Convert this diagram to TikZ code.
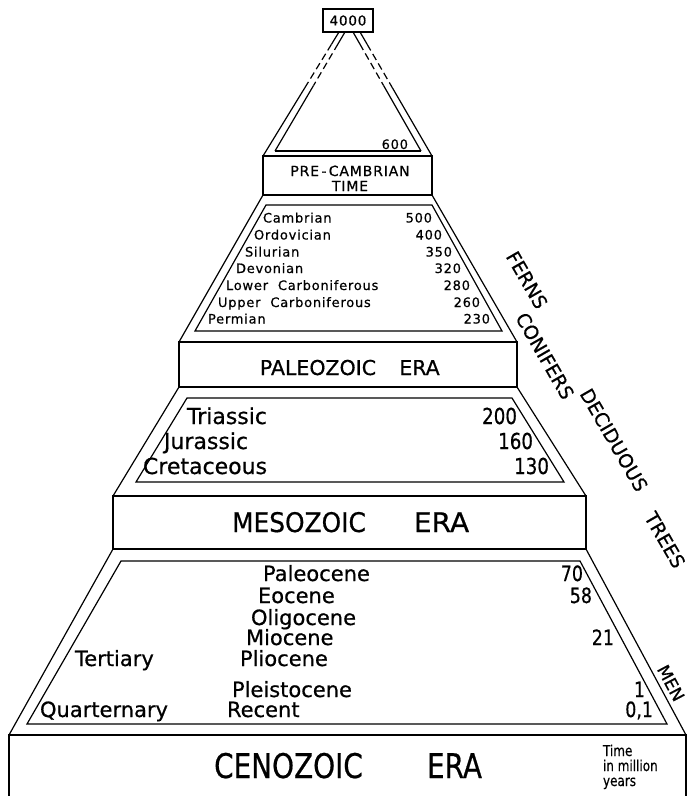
\documentclass[tikz,border=0pt]{standalone}
\usepackage{fontspec}
\usepackage{graphicx}
\setmainfont{DejaVu Sans}[FakeBold=0.6]
\newfontfamily\spc{DejaVu Sans}[LetterSpace=6,FakeBold=0.6]
\usetikzlibrary{calc}
\tikzset{
 ln/.style={line width=1.2pt, line join=miter},
 dsh/.style={ln, dash pattern=on 7pt off 4pt},
 lab/.style={inner sep=0pt, outer sep=0pt},
 pal/.style={lab, font=\spc\fontsize{13}{15}\selectfont},
 mes/.style={lab, font=\fontsize{22}{26}\selectfont},
 cen/.style={lab, font=\fontsize{21}{25}\selectfont},
 side/.style={lab, font=\fontsize{19}{22}\selectfont, rotate=-60},
}
\newcommand\nx[1]{\scalebox{0.83}[1]{#1}}
\newcommand\cx[2]{\scalebox{#1}[1]{#2}}
\begin{document}
\begin{tikzpicture}[x=1pt,y=-1pt]
\useasboundingbox (0,0) rectangle (688,796);
% ---------- top box and triangle
\node[lab, draw, ln, minimum width=50pt, minimum height=23pt, font=\spc\fontsize{13.5}{15}\selectfont] (top) at (348,20.5) {4000};
\coordinate (OTL) at (339,32); \coordinate (OBL) at (263,156);
\coordinate (OTR) at (360,32); \coordinate (OBR) at (432,156);
\coordinate (ITL) at (345,32); \coordinate (IBL) at (275,151);
\coordinate (ITR) at (353,32); \coordinate (IBR) at (421,151);
\foreach \a/\b in {OTL/OBL, ITL/IBL, OTR/OBR, ITR/IBR} {
 \draw[ln] (\a) -- ($(\a)!0.1!(\b)$);
 \draw[dsh] ($(\a)!0.1!(\b)$) -- ($(\a)!0.45!(\b)$);
 \draw[ln] ($(\a)!0.45!(\b)$) -- (\b);
}
\draw[ln] (IBL) -- (IBR);
\node[pal, anchor=base east] (n600) at (408,149) {600};
% ---------- Pre-Cambrian box
\draw[ln] (263,156) rectangle (432,195);
\node[lab, font=\spc\fontsize{14}{16}\selectfont, anchor=base] (pc1) at (350,176) {PRE\,-\,CAMBRIAN};
\node[lab, font=\spc\fontsize{14}{16}\selectfont, anchor=base] (pc2) at (350,191) {TIME};
% ---------- Paleozoic
\draw[ln] (263,195) -- (179,342);
\draw[ln] (432,195) -- (517,342);
\draw[ln] (266,205) -- (432,205) -- (502,331) -- (195,331) -- cycle;
\draw[ln] (179,342) rectangle (517,387);
\node[pal, anchor=base west] (cam) at (263,222.5) {Cambrian};
\node[pal, anchor=base west] (ord) at (254,239.5) {Ordovician};
\node[pal, anchor=base west] (sil) at (245,256.5) {Silurian};
\node[pal, anchor=base west] (dev) at (236,273) {Devonian};
\node[pal, anchor=base west] (lca) at (226,290) {Lower\hspace{5pt} Carboniferous};
\node[pal, anchor=base west] (uca) at (218,307) {Upper\hspace{5pt} Carboniferous};
\node[pal, anchor=base west] (per) at (208,323.5) {Permian};
\node[pal, anchor=base east] (n500) at (432,222.5) {500};
\node[pal, anchor=base east] (n400) at (442,239.5) {400};
\node[pal, anchor=base east] (n350) at (452,256.5) {350};
\node[pal, anchor=base east] (n320) at (461,273) {320};
\node[pal, anchor=base east] (n280) at (470,290) {280};
\node[pal, anchor=base east] (n260) at (480,307) {260};
\node[pal, anchor=base east] (n230) at (490,323.5) {230};
\node[lab, font=\fontsize{20.5}{24}\selectfont, anchor=base] (pal1) at (318,375) {PALEOZOIC};
\node[lab, font=\fontsize{20.5}{24}\selectfont, anchor=base] (pal2) at (419.5,375) {ERA};
% ---------- Mesozoic
\draw[ln] (179,387) -- (113,496);
\draw[ln] (517,387) -- (586,496);
\draw[ln] (187,398) -- (512,398) -- (564,482) -- (136,482) -- cycle;
\draw[ln] (113,496) rectangle (586,549);
\node[mes, anchor=base west] (tri) at (187,424) {Triassic};
\node[mes, anchor=base west] (jur) at (164,449) {Jurassic};
\node[mes, anchor=base west] (cre) at (143,474) {Cretaceous};
\node[mes, anchor=base east] (n200) at (517,424) {\nx{200}};
\node[mes, anchor=base east] (n160) at (533,449) {\nx{160}};
\node[mes, anchor=base east] (n130) at (549,474) {\nx{130}};
\node[lab, font=\fontsize{27}{30}\selectfont, anchor=base] (mes1) at (299,532) {\cx{0.92}{MESOZOIC}};
\node[lab, font=\fontsize{27}{30}\selectfont, anchor=base] (mes2) at (441.5,532) {\cx{1.04}{ERA}};
% ---------- Cenozoic
\draw[ln] (113,549) -- (9,735);
\draw[ln] (586,549) -- (686,735);
\draw[ln] (121,561) -- (580,561) -- (667,724) -- (27,724) -- cycle;
\draw[ln] (9,796) -- (9,735) -- (686,735) -- (686,796);
\node[cen, anchor=base west] (pale) at (263,581) {Paleocene};
\node[cen, anchor=base west] (eoc) at (258,603) {Eocene};
\node[cen, anchor=base west] (oli) at (251,625) {Oligocene};
\node[cen, anchor=base west] (mio) at (246,645) {Miocene};
\node[cen, anchor=base west] (pli) at (240,666) {Pliocene};
\node[cen, anchor=base west] (ple) at (232,697) {Pleistocene};
\node[cen, anchor=base west] (rec) at (227,717) {Recent};
\node[cen, anchor=base west] (ter) at (75,666) {Tertiary};
\node[cen, anchor=base west] (qua) at (40,717) {Quarternary};
\node[cen, anchor=base east] (n70) at (583,581) {\nx{70}};
\node[cen, anchor=base east] (n58) at (592,603) {\nx{58}};
\node[cen, anchor=base east] (n21) at (614,645) {\nx{21}};
\node[cen, anchor=base east] (n1) at (645,697) {\nx{1}};
\node[cen, anchor=base east] (n01) at (653,717) {\nx{0,1}};
\node[lab, font=\fontsize{34}{36}\selectfont, anchor=base] (cen1) at (288.5,778) {\cx{0.82}{CENOZOIC}};
\node[lab, font=\fontsize{34}{36}\selectfont, anchor=base] (cen2) at (454.5,778) {\cx{0.82}{ERA}};
\node[lab, font=\fontsize{15}{15}\selectfont, anchor=base west] (t1) at (603,756) {\cx{0.8}{Time}};
\node[lab, font=\fontsize{15}{15}\selectfont, anchor=base west] (t2) at (603,771) {\cx{0.8}{in million}};
\node[lab, font=\fontsize{15}{15}\selectfont, anchor=base west] (t3) at (603,786) {\cx{0.8}{years}};
% ---------- side labels
\node[side] (ferns) at (527,280) {FERNS};
\node[side] (conif) at (545,356) {CONIFERS};
\node[side] (decid) at (614,440) {DECIDUOUS};
\node[side] (trees) at (665,540) {TREES};
\node[side, rotate=-2, font=\fontsize{17}{20}\selectfont] (men) at (671,683) {MEN};
\end{tikzpicture}
\end{document}
